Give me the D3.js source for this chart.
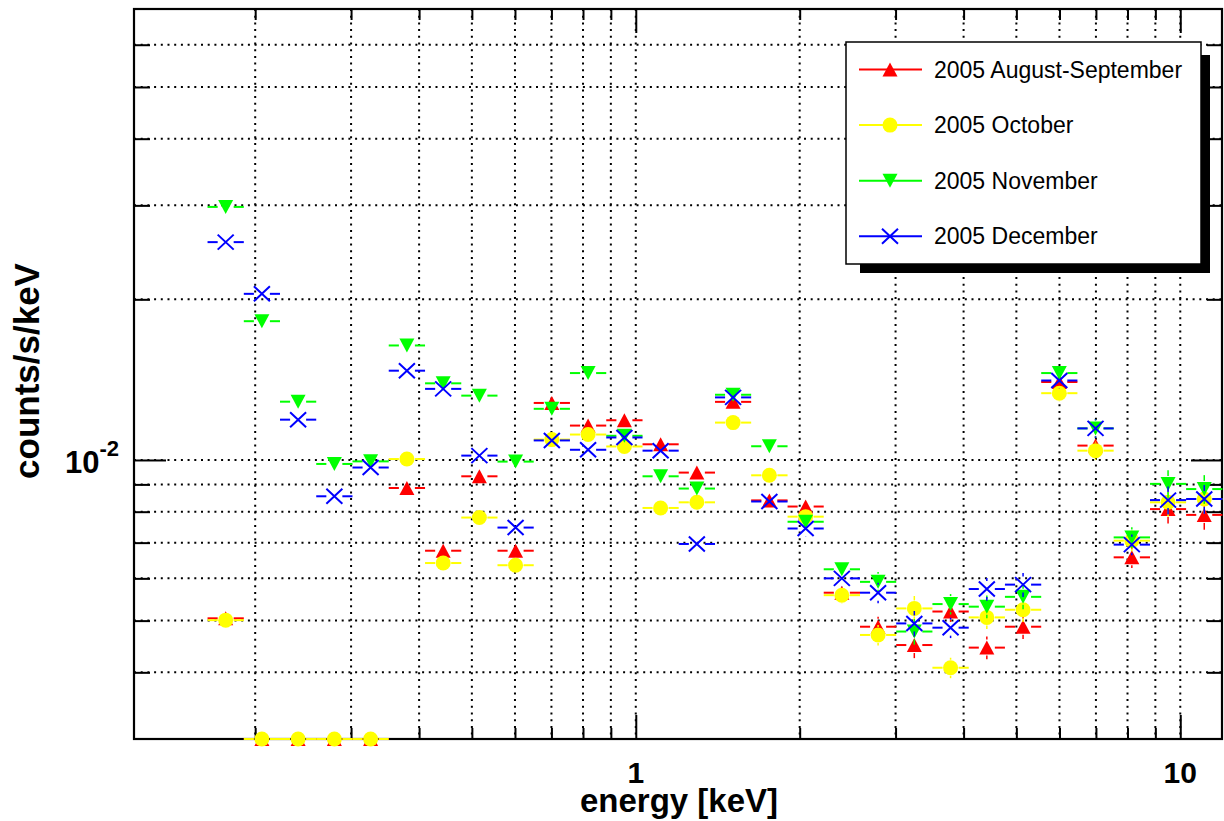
<!DOCTYPE html>
<html>
<head>
<meta charset="utf-8">
<script src="https://cdn.jsdelivr.net/npm/d3@7"></script>
<style>
body { margin: 0; background: #fff; }
text { font-family: "Liberation Sans", Arial, Helvetica, sans-serif; }
</style>
</head>
<body>
<div class="container"></div>
<script>
var width = 1224,
    height = 821,
    plotLeft = 134,
    plotRight = 1222,
    plotTop = 9,
    plotBottom = 739;

// energy bin edges [keV], 28 bins
var binEdges = [0.1635, 0.1906, 0.2221, 0.2589, 0.3018, 0.3518, 0.4102, 0.4781, 0.5572, 0.6495,
    0.7570, 0.8826, 1.029, 1.199, 1.398, 1.629, 1.900, 2.214, 2.581, 3.008,
    3.506, 4.088, 4.764, 5.554, 6.473, 7.545, 8.799, 10.25, 11.95];

// counts/s/keV per bin (0 = below the plotted range)
var augSep = [0.00505, 0, 0, 0, 0, 0.00886, 0.00676, 0.00932, 0.00676, 0.01279,
    0.01160, 0.01187, 0.01070, 0.00947, 0.01285, 0.00840, 0.00818, 0.00564, 0.00487, 0.00450,
    0.00520, 0.00445, 0.00487, 0.01400, 0.01064, 0.00657, 0.00809, 0.00789];
var october = [0.00501, 0, 0, 0, 0, 0.01004, 0.00641, 0.00780, 0.00635, 0.01092,
    0.01116, 0.01060, 0.00813, 0.00833, 0.01175, 0.00936, 0.00783, 0.00558, 0.00470, 0.00527,
    0.00408, 0.00507, 0.00524, 0.01334, 0.01041, 0.00706, 0.00833, 0.00845];
var november = [0.0298, 0.0182, 0.01286, 0.00983, 0.00994, 0.01639, 0.01392, 0.01320, 0.00993, 0.01247,
    0.01455, 0.0111, 0.00932, 0.00884, 0.01325, 0.01061, 0.00766, 0.00624, 0.00591, 0.00477,
    0.00537, 0.00531, 0.00554, 0.01455, 0.01146, 0.00716, 0.00902, 0.00882];
var december = [0.0256, 0.02048, 0.01190, 0.00855, 0.00968, 0.01470, 0.01359, 0.01019, 0.00747, 0.01088,
    0.01045, 0.01102, 0.01041, 0.00696, 0.01310, 0.00836, 0.00744, 0.00600, 0.00564, 0.00494,
    0.00485, 0.00573, 0.00584, 0.01409, 0.01146, 0.00694, 0.00841, 0.00845];

// rough relative errors per bin (mostly hidden under the markers)
var relErr = [0.02, 0.02, 0.02, 0.02, 0.02, 0.02, 0.02, 0.02, 0.025, 0.025,
    0.025, 0.025, 0.025, 0.025, 0.03, 0.03, 0.035, 0.035, 0.044, 0.055,
    0.044, 0.049, 0.052, 0.035, 0.04, 0.045, 0.06, 0.062];

var seriesNames = ['2005 August-September', '2005 October', '2005 November', '2005 December'];
var seriesValues = [augSep, october, november, december];
var seriesColors = ['#ff0000', '#ffff00', '#00ff00', '#0000ff'];

var xMinorTicks = [0.2, 0.3, 0.4, 0.5, 0.6, 0.7, 0.8, 0.9, 2, 3, 4, 5, 6, 7, 8, 9];
var xMajorTicks = [1, 10];
var xTickLabels = ['1', '10'];
var yMinorTicks = [0.004, 0.005, 0.006, 0.007, 0.008, 0.009, 0.02, 0.03, 0.04, 0.05, 0.06];
var yMajorTicks = [0.01];

var x = d3.scaleLog().domain([0.1198, 11.93]).range([plotLeft, plotRight]);
var y = d3.scaleLog().domain([0.003, 0.07]).range([plotBottom, plotTop]);

// ROOT-like markers
var triUp = { draw: (c) => { c.moveTo(0, -7); c.lineTo(7.5, 7); c.lineTo(-7.5, 7); c.closePath(); } };
var triDown = { draw: (c) => { c.moveTo(0, 7); c.lineTo(7.5, -7); c.lineTo(-7.5, -7); c.closePath(); } };
var circ = { draw: (c) => { c.moveTo(7.5, 0); c.arc(0, 0, 7.5, 0, 2 * Math.PI); } };
var cross = { draw: (c) => { c.moveTo(-8, -7.5); c.lineTo(8, 7.5); c.moveTo(-8, 7.5); c.lineTo(8, -7.5); } };
var markerTypes = [triUp, circ, triDown, cross];

var svg = d3.select('.container').append('svg')
    .attr('width', width)
    .attr('height', height);

svg.append('rect').attr('width', width).attr('height', height).attr('fill', '#fff');

// grid
var grid = svg.append('g')
    .attr('stroke', '#000')
    .attr('stroke-width', 2)
    .attr('stroke-dasharray', '2,4.7');

grid.selectAll('.gx')
    .data(xMinorTicks.concat(xMajorTicks))
    .enter().append('line')
    .attr('x1', (d) => x(d)).attr('x2', (d) => x(d))
    .attr('y1', plotTop).attr('y2', plotBottom);

grid.selectAll('.gy')
    .data(yMinorTicks.concat(yMajorTicks))
    .enter().append('line')
    .attr('y1', (d) => y(d)).attr('y2', (d) => y(d))
    .attr('x1', plotLeft).attr('x2', plotRight);

// ticks on all four sides
var addAxis = (axis, tx, ty) => {
    var g = svg.append('g')
        .attr('transform', 'translate(' + tx + ',' + ty + ')')
        .call(axis);
    g.select('.domain').remove();
    g.selectAll('line').attr('stroke', '#000').attr('stroke-width', 2);
    return g;
};

addAxis(d3.axisBottom(x).tickValues(xMinorTicks).tickSize(-11).tickFormat(''), 0, plotBottom);
addAxis(d3.axisBottom(x).tickValues(xMajorTicks).tickSize(-24).tickFormat(''), 0, plotBottom);
addAxis(d3.axisTop(x).tickValues(xMinorTicks).tickSize(-11).tickFormat(''), 0, plotTop);
addAxis(d3.axisTop(x).tickValues(xMajorTicks).tickSize(-24).tickFormat(''), 0, plotTop);
addAxis(d3.axisLeft(y).tickValues(yMinorTicks).tickSize(-16).tickFormat(''), plotLeft, 0);
addAxis(d3.axisLeft(y).tickValues(yMajorTicks).tickSize(-32).tickFormat(''), plotLeft, 0);
addAxis(d3.axisRight(y).tickValues(yMinorTicks).tickSize(-15).tickFormat(''), plotRight, 0);
addAxis(d3.axisRight(y).tickValues(yMajorTicks).tickSize(-31).tickFormat(''), plotRight, 0);

// frame
svg.append('rect')
    .attr('x', plotLeft).attr('y', plotTop)
    .attr('width', plotRight - plotLeft).attr('height', plotBottom - plotTop)
    .attr('fill', 'none')
    .attr('stroke', '#000')
    .attr('stroke-width', 2.2);

// tick labels
svg.selectAll('.xlab')
    .data(xMajorTicks)
    .enter().append('text')
    .attr('x', (d) => x(d))
    .attr('y', 783)
    .attr('text-anchor', 'middle')
    .attr('font-size', 30)
    .attr('font-weight', 'bold')
    .text((d, i) => xTickLabels[i]);

var ylab = svg.append('text')
    .attr('x', 65)
    .attr('y', y(0.01) + 13)
    .attr('font-size', 31)
    .attr('font-weight', 'bold');
ylab.append('tspan').text('10');
ylab.append('tspan').attr('font-size', 22).attr('dy', -17).text('-2');

// axis titles
svg.append('text')
    .attr('x', 679).attr('y', 812)
    .attr('text-anchor', 'middle')
    .attr('font-size', 33)
    .attr('font-weight', 'bold')
    .text('energy [keV]');

svg.append('text')
    .attr('transform', 'translate(39,371) rotate(-90)')
    .attr('text-anchor', 'middle')
    .attr('font-size', 35)
    .attr('font-weight', 'bold')
    .text('counts/s/keV');

// data
var bins = d3.range(binEdges.length - 1).map((j) => ({
    lo: binEdges[j],
    hi: binEdges[j + 1],
    mid: Math.sqrt(binEdges[j] * binEdges[j + 1])
}));

var gap = 8;

seriesValues.forEach((vals, s) => {
    var color = seriesColors[s];
    var pts = bins.map((b, j) => {
        var v = vals[j];
        return {
            cx: x(b.mid),
            cy: v > 0 ? y(v) : plotBottom,
            x0: x(b.lo),
            x1: x(b.hi),
            ytop: v > 0 ? y(v * (1 + relErr[j])) : plotBottom,
            ybot: v > 0 ? y(v * (1 - relErr[j])) : plotBottom
        };
    });

    var g = svg.append('g').attr('class', 'series');

    g.selectAll('.exl').data(pts).enter().append('line')
        .attr('x1', (d) => d.x0).attr('x2', (d) => d.cx - gap)
        .attr('y1', (d) => d.cy).attr('y2', (d) => d.cy)
        .attr('stroke', color).attr('stroke-width', 2);
    g.selectAll('.exr').data(pts).enter().append('line')
        .attr('x1', (d) => d.cx + gap).attr('x2', (d) => d.x1)
        .attr('y1', (d) => d.cy).attr('y2', (d) => d.cy)
        .attr('stroke', color).attr('stroke-width', 2);

    g.selectAll('.eyt').data(pts.filter((d) => d.cy - d.ytop > gap)).enter().append('line')
        .attr('x1', (d) => d.cx).attr('x2', (d) => d.cx)
        .attr('y1', (d) => d.ytop).attr('y2', (d) => d.cy - gap)
        .attr('stroke', color).attr('stroke-width', 1.5);
    g.selectAll('.eyb').data(pts.filter((d) => d.ybot - d.cy > gap)).enter().append('line')
        .attr('x1', (d) => d.cx).attr('x2', (d) => d.cx)
        .attr('y1', (d) => d.cy + gap).attr('y2', (d) => d.ybot)
        .attr('stroke', color).attr('stroke-width', 1.5);

    var sym = d3.symbol().type(markerTypes[s]);
    g.selectAll('.marker').data(pts).enter().append('path')
        .attr('transform', (d) => 'translate(' + d.cx + ',' + d.cy + ')')
        .attr('d', sym)
        .attr('fill', markerTypes[s] === cross ? 'none' : color)
        .attr('stroke', markerTypes[s] === cross ? color : 'none')
        .attr('stroke-width', 2);
});

// legend
var legend = svg.append('g');
legend.append('rect')
    .attr('x', 860).attr('y', 55)
    .attr('width', 350).attr('height', 218)
    .attr('fill', '#000');
legend.append('rect')
    .attr('x', 846).attr('y', 42)
    .attr('width', 355).attr('height', 222)
    .attr('fill', '#fff')
    .attr('stroke', '#000')
    .attr('stroke-width', 1.5);

var rows = legend.selectAll('.row')
    .data(seriesNames)
    .enter().append('g')
    .attr('transform', (d, i) => 'translate(0,' + (69.5 + i * 55.6) + ')');

rows.append('line')
    .attr('x1', 859).attr('x2', 922)
    .attr('stroke', (d, i) => seriesColors[i])
    .attr('stroke-width', 2);
rows.append('path')
    .attr('transform', 'translate(890,0)')
    .attr('d', (d, i) => d3.symbol().type(markerTypes[i])())
    .attr('fill', (d, i) => markerTypes[i] === cross ? 'none' : seriesColors[i])
    .attr('stroke', (d, i) => markerTypes[i] === cross ? seriesColors[i] : 'none')
    .attr('stroke-width', 2);
rows.append('text')
    .attr('x', 934).attr('y', 8)
    .attr('font-size', 23)
    .text((d) => d);
</script>
</body>
</html>
